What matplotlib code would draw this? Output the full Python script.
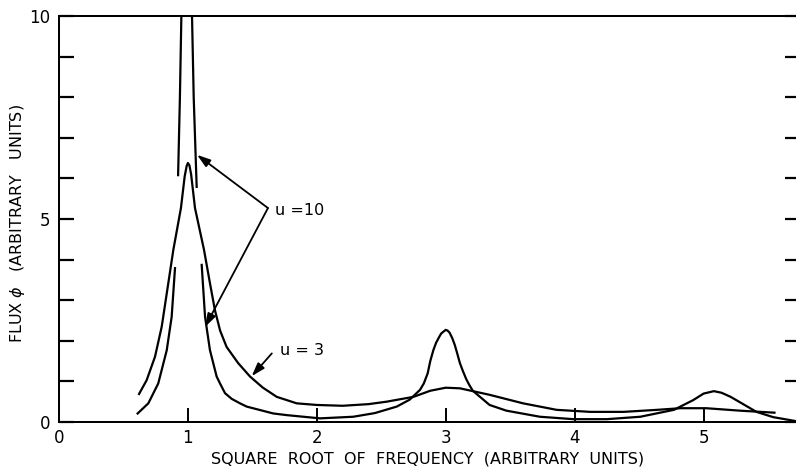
import matplotlib
matplotlib.use("Agg")
import matplotlib.pyplot as plt

plt.rcParams["font.family"] = ["DejaVu Sans"]

# u = 3 curve (broad resonance)
u3_x = [0.621, 0.680, 0.745, 0.797, 0.848, 0.887, 0.946, 0.975, 0.99, 1.0, 1.012, 1.025,
        1.055, 1.125, 1.171, 1.21, 1.25, 1.30, 1.39, 1.482, 1.58, 1.689, 1.844, 2.0,
        2.2, 2.4, 2.54, 2.75, 2.88, 3.0, 3.11, 3.34, 3.60, 3.86, 4.12, 4.38, 4.64,
        4.82, 5.02, 5.28, 5.55]
u3_y = [0.69, 1.03, 1.61, 2.35, 3.42, 4.24, 5.27, 6.05, 6.3, 6.38, 6.32, 6.1,
        5.27, 4.24, 3.42, 2.75, 2.25, 1.85, 1.45, 1.12, 0.85, 0.62, 0.46, 0.42,
        0.40, 0.44, 0.50, 0.62, 0.77, 0.845, 0.83, 0.67, 0.46, 0.30, 0.25, 0.25, 0.30,
        0.34, 0.34, 0.28, 0.23]

# u = 10 curve (sharp resonance), drawn in pieces like the original
u10_top_left_x = [0.951, 0.938, 0.924]
u10_top_left_y = [10.3, 8.0, 6.08]
u10_top_right_x = [1.030, 1.045, 1.068]
u10_top_right_y = [10.3, 8.0, 5.79]
u10_low_left_x = [0.90, 0.874, 0.836, 0.770, 0.693, 0.610]
u10_low_left_y = [3.79, 2.59, 1.77, 0.95, 0.46, 0.21]
u10_rest_x = [1.107, 1.133, 1.171, 1.223, 1.249, 1.288, 1.34, 1.404, 1.456, 1.663,
              1.766, 2.025, 2.283, 2.45, 2.62, 2.72, 2.80, 2.83, 2.86, 2.88, 2.904,
              2.925, 2.95, 2.965, 2.98, 3.0, 3.015, 3.03, 3.05, 3.07, 3.09, 3.11,
              3.135, 3.16, 3.185, 3.21, 3.34, 3.47, 3.73, 3.99, 4.25, 4.51, 4.77,
              4.92, 5.0, 5.08, 5.14, 5.21, 5.41, 5.54, 5.72]
u10_rest_y = [3.87, 2.59, 1.77, 1.12, 0.95, 0.71, 0.57, 0.46, 0.38, 0.21,
              0.17, 0.09, 0.13, 0.22, 0.38, 0.55, 0.79, 0.95, 1.2, 1.5, 1.77,
              1.95, 2.1, 2.18, 2.22, 2.27, 2.25, 2.2, 2.07, 1.9, 1.68, 1.45,
              1.24, 1.05, 0.9, 0.77, 0.42, 0.28, 0.13, 0.07, 0.07, 0.13, 0.30,
              0.54, 0.70, 0.76, 0.72, 0.62, 0.25, 0.12, 0.02]

x_ticks = [0, 1, 2, 3, 4, 5]
y_ticks = list(range(0, 11))
y_labels = ["0", "", "", "", "", "5", "", "", "", "", "10"]

fig = plt.figure(figsize=(7.96, 4.72), dpi=100)
ax = fig.add_axes([0.0741, 0.1059, 0.9259, 0.8602])

lw = 1.6
ax.plot(u3_x, u3_y, color="black", lw=lw)
for xs, ys in [(u10_top_left_x, u10_top_left_y), (u10_top_right_x, u10_top_right_y),
               (u10_low_left_x, u10_low_left_y), (u10_rest_x, u10_rest_y)]:
    ax.plot(xs, ys, color="black", lw=lw)

ax.set_xlim(0, 5.717)
ax.set_ylim(0, 10)

ax.set_xticks(x_ticks)
ax.set_xticklabels([str(t) for t in x_ticks])
ax.set_yticks(y_ticks)
ax.set_yticklabels(y_labels)
ax.tick_params(axis="x", direction="in", length=10, width=1.4, labelsize=12, pad=5)
ax.tick_params(axis="y", direction="in", length=11, width=1.6, labelsize=12, pad=6)

axr = ax.twinx()
axr.set_ylim(0, 10)
axr.set_yticks(y_ticks)
axr.tick_params(axis="y", direction="in", length=8, width=1.6, labelright=False)

for a in (ax, axr):
    a.spines["right"].set_visible(False)
    for s in ("top", "bottom", "left"):
        a.spines[s].set_linewidth(1.4)

ax.set_xlabel("SQUARE  ROOT  OF  FREQUENCY  (ARBITRARY  UNITS)", fontsize=11.5, labelpad=3)
ax.set_ylabel("FLUX $\\phi$   (ARBITRARY   UNITS)", fontsize=11.5)
ax.yaxis.set_label_coords(-0.043, 0.49)

# labels with arrows
arrow = dict(arrowstyle="-|>,head_length=0.8,head_width=0.26", color="black", lw=1.3,
             shrinkA=0, shrinkB=0)
ax.annotate("", xy=(1.071, 6.58), xytext=(1.621, 5.27), arrowprops=arrow)
ax.annotate("", xy=(1.133, 2.34), xytext=(1.621, 5.27), arrowprops=arrow)
ax.text(1.676, 5.2, "u =10", fontsize=11.5, ha="left", va="center")

ax.annotate("", xy=(1.495, 1.13), xytext=(1.651, 1.69), arrowprops=arrow)
ax.text(1.715, 1.75, "u = 3", fontsize=11.5, ha="left", va="center")

fig.savefig("out.png", dpi=100)
